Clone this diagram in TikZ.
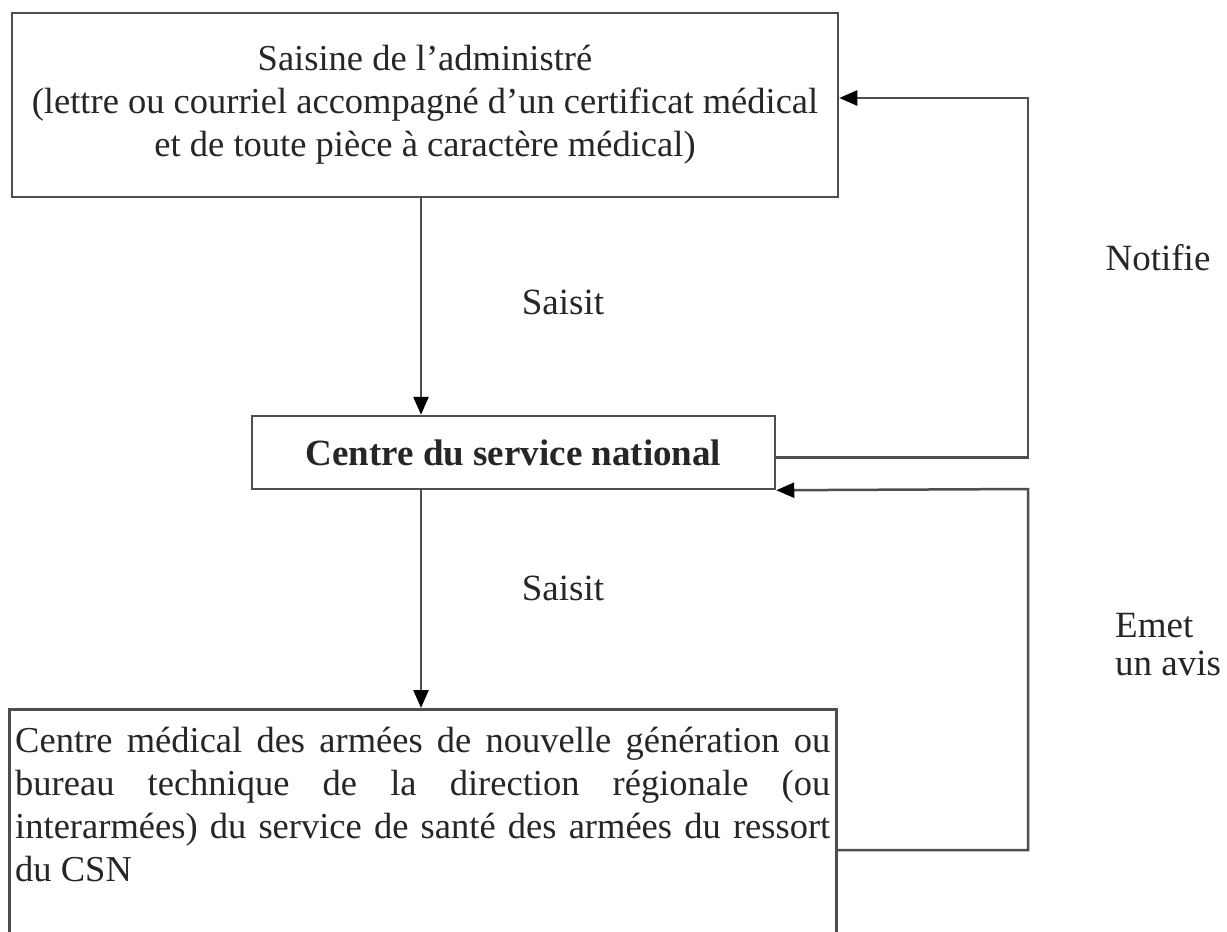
\documentclass[tikz,border=0pt]{standalone}
\usepackage{fontspec}
\setmainfont{Liberation Serif}
\usetikzlibrary{arrows.meta}
\definecolor{linec}{HTML}{4E4E4E}
\definecolor{textc}{HTML}{262626}
\tikzset{
  box/.style={draw=linec, line width=2.5pt, text=textc, font=\fontsize{36.5}{43}\selectfont},
  lbl/.style={text=textc, font=\fontsize{37}{38}\selectfont, inner sep=0pt},
  arr/.style={draw=linec, line width=2.5pt, -{Triangle[length=18pt,width=15pt,color=black]}},
}
\begin{document}
\begin{tikzpicture}[x=1pt,y=-1pt]
\useasboundingbox[fill=white] (0,0) rectangle (1227,932);
\node[box, minimum width=826pt, minimum height=184pt, align=center, inner sep=0pt] (top) at (425,105)
  {Saisine de l’administré\\(lettre ou courriel accompagné d’un certificat médical\\et de toute pièce à caractère médical)};
\node[box, minimum width=523pt, minimum height=73pt, inner sep=0pt, font=\fontsize{37}{43}\selectfont\bfseries] (csn) at (513.5,452.5)
  {Centre du service national};
\node[box, anchor=north west, text width=815pt, inner xsep=6pt, inner ysep=18pt, align=justify] (cm) at (8,708)
  {Centre médical des armées de nouvelle génération ou\linebreak
   bureau technique de la direction régionale (ou\linebreak
   interarmées) du service de santé des armées du ressort\linebreak
   du CSN\rule[-40pt]{0pt}{1pt}};
\coordinate (a) at (421,0);
\coordinate (r1) at (1028,98);
\coordinate (r2) at (1028,489);
\draw[arr] (top.south -| a) -- (csn.north -| a);
\draw[arr] (csn.south -| a) -- (cm.north -| a);
\draw[arr] ([yshift=-5pt]csn.east) -| (r1) -- (top.east |- r1);
\draw[arr] (cm.east |- 0,850) -| (r2) -- (csn.south east);
\node[lbl] (s1) at (563,302) {Saisit};
\node[lbl] (s2) at (563,588) {Saisit};
\node[lbl] (n1) at (1158,258) {Notifie};
\node[lbl, anchor=west, align=left] (e1) at (1115,645) {Emet\\un avis};
\end{tikzpicture}
\end{document}
